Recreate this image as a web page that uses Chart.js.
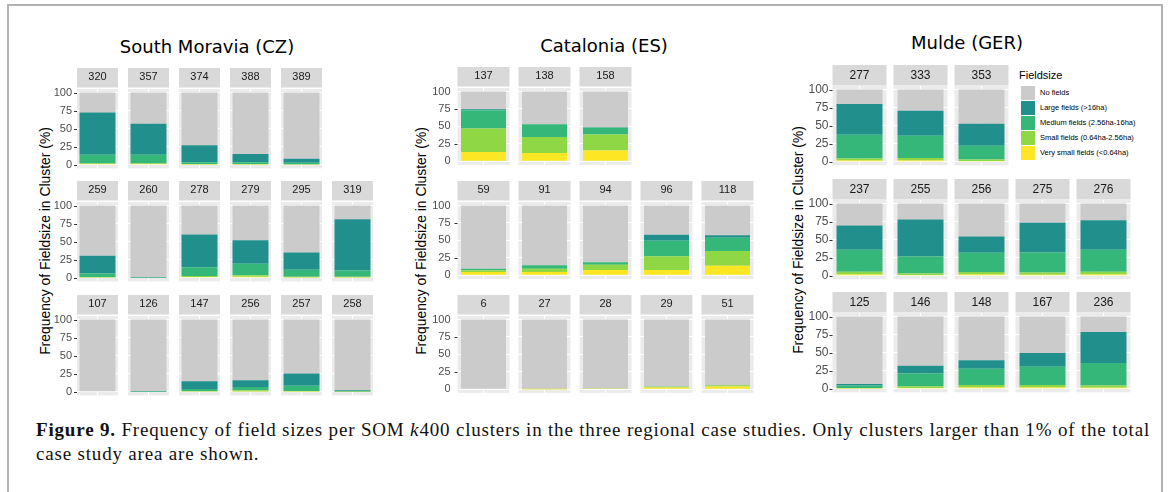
<!DOCTYPE html>
<html>
<head>
<meta charset="utf-8">
<script src="https://cdn.jsdelivr.net/npm/chart.js@4.4.0/dist/chart.umd.min.js"></script>
<style>
    body { margin: 0; width: 1170px; height: 492px; background: #fff; position: relative; overflow: hidden; font-family: "Liberation Sans", Arial, sans-serif; }
    .frame { position: absolute; left: 7px; top: 4px; width: 1156px; height: 600px; border: 2px solid #b2b2b2; box-sizing: border-box; }
    canvas { position: absolute; }
    .title { position: absolute; font-family: "DejaVu Sans", sans-serif; font-size: 18px; line-height: 22px; color: #000; white-space: nowrap; transform: translateX(-50%); }
    .ylab { position: absolute; font-size: 13.9px; line-height: 16px; color: #000; white-space: nowrap; transform: translate(-50%, -50%) rotate(-90deg); }
    .legend-title { position: absolute; left: 1019px; top: 69px; font-size: 11px; color: #000; }
    .key { position: absolute; width: 14px; height: 14px; }
    .key-label { position: absolute; font-size: 7.5px; line-height: 14px; color: #000; white-space: nowrap; }
    .caption { position: absolute; left: 36px; font-family: "Liberation Serif", "Times New Roman", serif; font-size: 19px; line-height: 24px; color: #111; white-space: nowrap; }
</style>
</head>
<body>
<div class="frame"></div>
<div id="root"></div>
<div class="caption" id="cap1" style="top:418px"><b>Figure 9.</b> Frequency of field sizes per SOM <i>k</i>400 clusters in the three regional case studies. Only clusters larger than 1% of the total</div>
<div class="caption" id="cap2" style="top:442px">case study area are shown.</div>
<script>
// stacking order, bottom to top
const seriesNames = ['Very small fields (<0.64ha)', 'Small fields (0.64ha-2.56ha)', 'Medium fields (2.56ha-16ha)', 'Large fields (>16ha)', 'No fields'];
const seriesColors = ['#FDE725', '#8FD744', '#35B779', '#21908C', '#CBCBCB'];
const yTicks = [0, 25, 50, 75, 100];
const yMinor = [12.5, 37.5, 62.5, 87.5];
const yTitle = 'Frequency of Fieldsize in Cluster (%)';
const legendTitle = 'Fieldsize';

// South Moravia (CZ)
const smClusters = [['320', '357', '374', '388', '389'], ['259', '260', '278', '279', '295', '319'], ['107', '126', '147', '256', '257', '258']];
const smVerySmall = [[1, 1, 0.5, 0.5, 0.3], [0.3, 0, 1, 1.5, 0.5, 0.5], [0, 0, 0.3, 0.5, 0.3, 0]];
const smSmall = [[1, 1, 0.5, 0.5, 0.2], [0.5, 0, 1.5, 2, 1, 0.8], [0, 0, 0.5, 1.5, 0.7, 0.1]];
const smMedium = [[12, 12, 2.5, 2.5, 2.5], [5.2, 0.2, 12, 16, 9.5, 8.7], [0, 0.2, 3.2, 4.5, 7.5, 0.5]];
const smLarge = [[58.5, 43, 23.5, 11.5, 5.5], [24.5, 0.6, 45.5, 32.5, 24, 71], [0, 0.5, 10.5, 9.5, 17, 1.4]];
const smNoFields = [[27.5, 43, 73, 85, 91.5], [69.5, 99.2, 40, 48, 65, 19], [100, 99.3, 85.5, 84, 74.5, 98]];

// Catalonia (ES)
const caClusters = [['137', '138', '158'], ['59', '91', '94', '96', '118'], ['6', '27', '28', '29', '51']];
const caVerySmall = [[13.5, 12, 15.5], [4.7, 4.7, 7.7, 7.7, 13.7], [0, 0.3, 0.5, 2.8, 4]];
const caSmall = [[33.5, 23, 23], [2.6, 4.7, 7.7, 19.7, 21.3], [0, 0.2, 0.3, 1, 2]];
const caMedium = [[26, 18, 10], [2.1, 5.1, 3.4, 22.2, 18.8], [0, 0, 0.2, 0.2, 0.3]];
const caLarge = [[1.5, 0.3, 0.3], [0.1, 0.1, 0.1, 8.4, 3.5], [0, 0, 0, 0, 0]];
const caNoFields = [[25.5, 46.7, 51.2], [90.5, 85.4, 81.1, 42, 42.7], [100, 99.5, 99, 96, 93.7]];

// Mulde (GER)
const muClusters = [['277', '333', '353'], ['237', '255', '256', '275', '276'], ['125', '146', '148', '167', '236']];
const muVerySmall = [[1.5, 1.5, 1], [1.5, 1, 1.5, 1.3, 1.5], [0.3, 1, 1.5, 1.5, 1.3]];
const muSmall = [[3, 3.5, 2], [4, 2, 3.5, 3, 4], [0.5, 2.5, 3.5, 3.5, 3.3]];
const muMedium = [[33, 31, 19], [30.5, 23.5, 27, 28, 30.5], [3.7, 17.5, 22.5, 25.5, 31]];
const muLarge = [[42.5, 34.5, 30.5], [33.5, 51.5, 22.5, 41, 41], [2, 11, 12, 19, 43]];
const muNoFields = [[20, 29.5, 47.5], [30.5, 22, 45.5, 26.7, 23], [93.5, 68, 60.5, 50.5, 21.4]];

const regions = [
    { title: 'South Moravia (CZ)', clusters: smClusters, series: [smVerySmall, smSmall, smMedium, smLarge, smNoFields],
      titleX: 207, titleY: 36, panelLeft: 77, pitch: 51, panelW: 41, barW: 36, rowTops: [89, 202, 316], panelH: 85,
      stripGap: 1.5, font: 11, tickPad: 0, stripPad: 5, ylabX: 45, ylabY: 241 },
    { title: 'Catalonia (ES)', clusters: caClusters, series: [caVerySmall, caSmall, caMedium, caLarge, caNoFields],
      titleX: 604, titleY: 35, panelLeft: 457, pitch: 61, panelW: 52, barW: 45, rowTops: [88, 202, 316], panelH: 85,
      stripGap: 1.5, font: 11, tickPad: 2.5, stripPad: 5, ylabX: 421, ylabY: 241 },
    { title: 'Mulde (GER)', clusters: muClusters, series: [muVerySmall, muSmall, muMedium, muLarge, muNoFields],
      titleX: 967, titleY: 32, panelLeft: 832, pitch: 61, panelW: 54, barW: 46, rowTops: [86, 200, 313], panelH: 86,
      stripGap: 0.5, font: 12, tickPad: 0.5, stripPad: 3.5, ylabX: 798, ylabY: 240 }
];

const AXIS_W = 40;
const STRIP_H = 23;
const root = document.getElementById('root');

// grey panels, strips and y tick marks behind the bars
const facetPlugin = {
    id: 'facets',
    beforeDraw(chart, args, opts) {
        const { ctx, chartArea, scales } = chart;
        const n = chart.data.labels.length;
        ctx.save();
        for (let i = 0; i < n; i++) {
            const cx = scales.x.getPixelForValue(i);
            const left = cx - opts.panelW / 2;
            ctx.fillStyle = '#EBEBEB';
            ctx.fillRect(left, chartArea.top, opts.panelW, chartArea.bottom - chartArea.top);
            ctx.fillStyle = '#D9D9D9';
            ctx.fillRect(left, chartArea.top - STRIP_H + 2, opts.panelW, STRIP_H - 2 - opts.stripGap);
        }
        const x0 = scales.x.getPixelForValue(0) - opts.panelW / 2;
        ctx.strokeStyle = '#333';
        ctx.lineWidth = 1;
        yTicks.forEach(v => {
            const y = Math.round(scales.y.getPixelForValue(v)) + 0.5;
            ctx.beginPath();
            ctx.moveTo(x0 - 3, y);
            ctx.lineTo(x0, y);
            ctx.stroke();
        });
        ctx.restore();
    }
};

regions.forEach(reg => {
    const t = document.createElement('div');
    t.className = 'title';
    t.textContent = reg.title;
    t.style.left = reg.titleX + 'px';
    t.style.top = reg.titleY + 'px';
    root.appendChild(t);

    const yl = document.createElement('div');
    yl.className = 'ylab';
    yl.textContent = yTitle;
    yl.style.left = reg.ylabX + 'px';
    yl.style.top = reg.ylabY + 'px';
    root.appendChild(yl);

    const chartLeft = reg.panelLeft - (reg.pitch - reg.panelW) / 2;

    reg.clusters.forEach((labels, r) => {
        const canvas = document.createElement('canvas');
        const w = Math.round(AXIS_W + labels.length * reg.pitch + 1);
        const h = STRIP_H + reg.panelH + 1;
        canvas.width = w;
        canvas.height = h;
        canvas.style.width = w + 'px';
        canvas.style.height = h + 'px';
        canvas.style.left = Math.round(chartLeft - AXIS_W) + 'px';
        canvas.style.top = Math.round(reg.rowTops[r] - STRIP_H) + 'px';
        root.appendChild(canvas);

        new Chart(canvas, {
            type: 'bar',
            data: {
                labels: labels,
                datasets: seriesNames.map((name, i) => ({
                    label: name,
                    data: reg.series[i][r],
                    backgroundColor: seriesColors[i],
                    borderWidth: 0,
                    categoryPercentage: 1,
                    barPercentage: reg.barW / reg.pitch
                }))
            },
            options: {
                responsive: false,
                animation: false,
                layout: { padding: { left: 0, right: 1, top: 0, bottom: 1 } },
                plugins: {
                    legend: { display: false },
                    tooltip: { enabled: false },
                    facets: { panelW: reg.panelW, stripGap: reg.stripGap }
                },
                scales: {
                    x: {
                        position: 'top',
                        stacked: true,
                        grid: { color: '#FFFFFF', offset: false, drawTicks: false, lineWidth: 1 },
                        border: { display: false },
                        ticks: { color: '#1A1A1A', font: { family: 'Liberation Sans', size: reg.font }, padding: reg.stripPad, maxRotation: 0, autoSkip: false },
                        afterFit: s => { s.height = STRIP_H; }
                    },
                    y: {
                        stacked: true,
                        min: -5,
                        max: 105,
                        afterBuildTicks: s => { s.ticks = yTicks.concat(yMinor).sort((a, b) => a - b).map(v => ({ value: v })); },
                        grid: {
                            color: '#FFFFFF',
                            drawTicks: false,
                            lineWidth: c => (c.tick && yTicks.includes(c.tick.value)) ? 1.1 : 0.5
                        },
                        border: { display: false },
                        ticks: {
                            color: '#4D4D4D',
                            font: { family: 'Liberation Sans', size: reg.font },
                            padding: reg.tickPad,
                            callback: v => yTicks.includes(v) ? String(v) : ''
                        },
                        afterFit: s => { s.width = AXIS_W; }
                    }
                }
            },
            plugins: [facetPlugin]
        });
    });
});

// legend, top item is the last series
const lt = document.createElement('div');
lt.className = 'legend-title';
lt.textContent = legendTitle;
root.appendChild(lt);
seriesNames.slice().reverse().forEach((name, k) => {
    const idx = seriesNames.length - 1 - k;
    const top = 86 + k * 15;
    const key = document.createElement('div');
    key.className = 'key';
    key.style.left = '1021px';
    key.style.top = top + 'px';
    key.style.background = seriesColors[idx];
    root.appendChild(key);
    const lab = document.createElement('div');
    lab.className = 'key-label';
    lab.style.left = '1040px';
    lab.style.top = top + 'px';
    lab.textContent = name;
    root.appendChild(lab);
});

// stretch caption so the first line ends where the reference line ends
const cap1 = document.getElementById('cap1');
const cap2 = document.getElementById('cap2');
const targetW = 1114;
const natural = cap1.getBoundingClientRect().width;
const chars = cap1.textContent.length;
const ls = (targetW - natural) / chars;
cap1.style.letterSpacing = ls + 'px';
cap2.style.letterSpacing = ls + 'px';
</script>
</body>
</html>
